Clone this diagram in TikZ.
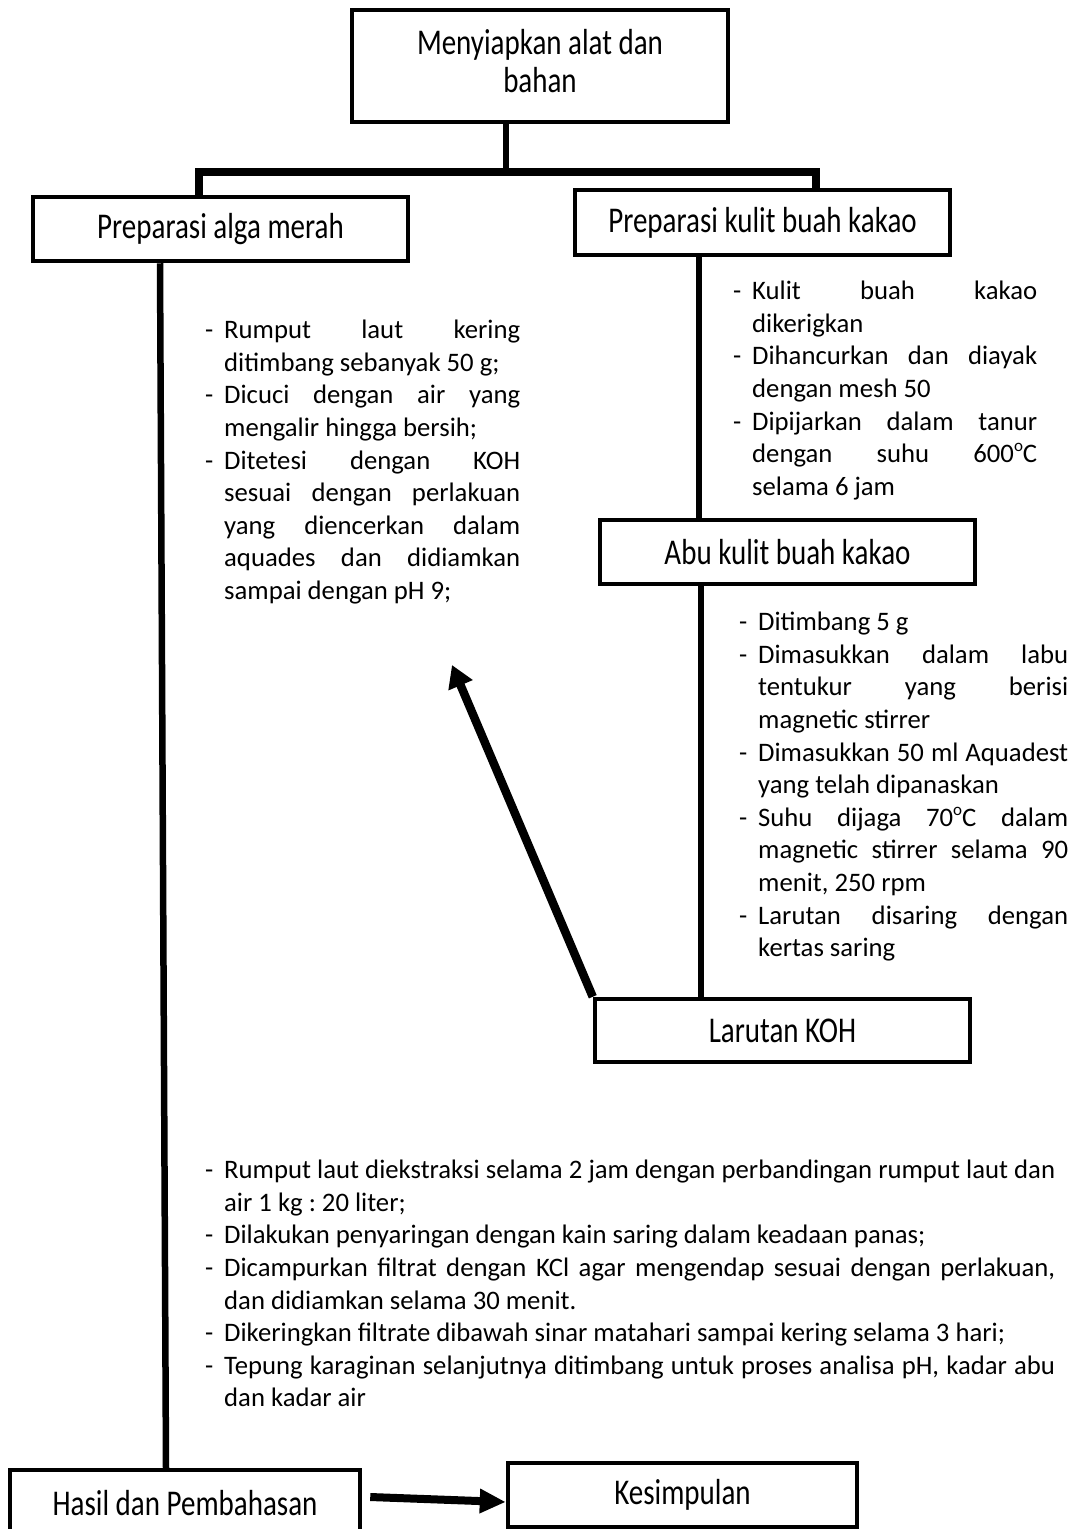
\documentclass[tikz,border=0pt]{standalone}
\usepackage{fontspec}
\setmainfont{Carlito}
\usepackage{graphicx}
\usetikzlibrary{arrows.meta}
\newcommand{\bl}[1]{\hangindent=19pt\hangafter=1\noindent\makebox[19pt][l]{-}#1\par}
\newcommand{\vst}[1]{\scalebox{1}[1.25]{#1}}
\newcommand{\dg}{\raisebox{0.42em}{\fontsize{17}{17}\selectfont o}}
\hyphenpenalty=10000
\exhyphenpenalty=10000
\tolerance=9999
\emergencystretch=20pt
\frenchspacing
\begin{document}
\begin{tikzpicture}[x=1pt,y=-1pt,
  box/.style={draw, line width=4.5pt, inner sep=0pt, font=\fontsize{29}{30.4}\selectfont, align=center},
  conn/.style={line width=6.5pt},
  blist/.style={anchor=north west, inner sep=0pt, align=justify, font=\fontsize{26.7}{32.6}\selectfont},
  bigarrow/.style={line width=8.5pt, -{Triangle[length=22pt,width=25pt]}},
]
\useasboundingbox (0,0) rectangle (1076,1529);

% boxes
\node[box, minimum width=376pt, minimum height=112pt] (top) at (540,66)
  {\vst{\begin{tabular}{@{}c@{}}Menyiapkan alat dan\\bahan\end{tabular}}};
\node[box, minimum width=375pt, minimum height=64pt] (alga) at (220.5,229) {\vst{Preparasi alga merah}};
\node[box, minimum width=375pt, minimum height=65pt] (kulit) at (762.5,222.5) {\vst{Preparasi kulit buah kakao}};
\node[box, minimum width=375pt, minimum height=64pt] (abu) at (787.5,552) {\vst{Abu kulit buah kakao}};
\node[box, minimum width=375pt, minimum height=63pt] (koh) at (782.5,1030.5) {\vst{Larutan KOH}};
\node[box, minimum width=350pt, minimum height=66pt] (hasil) at (185,1503) {\vst{Hasil dan Pembahasan}};
\node[box, minimum width=349pt, minimum height=64pt] (kes) at (682.5,1495) {\vst{Kesimpulan}};

% coordinates
\coordinate (j) at (506,172);
\coordinate (b1) at (199,172);
\coordinate (b2) at (816,172);
\coordinate (l1) at (160,0);
\coordinate (l2) at (166,0);
\coordinate (r1) at (699,0);
\coordinate (r2) at (701,0);
\coordinate (tip) at (452,665);

% connectors
\draw[conn] (top.south -| j) -- (j);
\draw[conn, line width=7.5pt] (alga.north -| b1) -- (b1) -- (b2) -- (kulit.north -| b2);
\draw[conn] (alga.south -| l1) -- (hasil.north -| l2);
\draw[conn] (kulit.south -| r1) -- (abu.north -| r1);
\draw[conn] (abu.south -| r2) -- (koh.north -| r2);
\draw[bigarrow] (koh.north west) -- (tip);
\draw[line width=8pt, -{Triangle[length=26pt,width=23pt]}] ([xshift=8pt,yshift=6pt]hasil.east) -- ([yshift=-7pt]kes.west);

% text blocks
\node[blist, text width=315pt] (t1) at (205,320) {%
\bl{Rumput laut kering ditimbang sebanyak 50 g;}
\bl{Dicuci dengan air yang mengalir hingga bersih;}
\bl{Ditetesi dengan KOH\linebreak sesuai dengan perlakuan\linebreak yang diencerkan dalam\linebreak aquades dan didiamkan\linebreak sampai dengan pH 9;}};

\node[blist, text width=304pt] (t2) at (733,281) {%
\bl{Kulit buah kakao dikerigkan}
\bl{Dihancurkan dan diayak dengan mesh 50}
\bl{Dipijarkan dalam tanur dengan suhu 600\dg C selama 6 jam}};

\node[blist, text width=329pt] (t3) at (739,612) {%
\bl{Ditimbang 5 g}
\bl{Dimasukkan dalam labu tentukur yang berisi magnetic stirrer}
\bl{Dimasukkan 50 ml Aquadest yang telah dipanaskan}
\bl{Suhu dijaga 70\dg C dalam magnetic stirrer selama 90 menit, 250 rpm}
\bl{Larutan disaring dengan kertas saring}};

\node[blist, text width=850pt] (t4) at (205,1160) {%
\bl{Rumput laut diekstraksi selama 2 jam dengan perbandingan rumput laut dan air 1 kg : 20 liter;}
\bl{Dilakukan penyaringan dengan kain saring dalam keadaan panas;}
\bl{Dicampurkan filtrat dengan KCl agar mengendap sesuai dengan perlakuan, dan didiamkan selama 30 menit.}
\bl{Dikeringkan filtrate dibawah sinar matahari sampai kering selama 3 hari;}
\bl{Tepung karaginan selanjutnya ditimbang untuk proses analisa pH, kadar abu dan kadar air}};
\end{tikzpicture}
\end{document}
